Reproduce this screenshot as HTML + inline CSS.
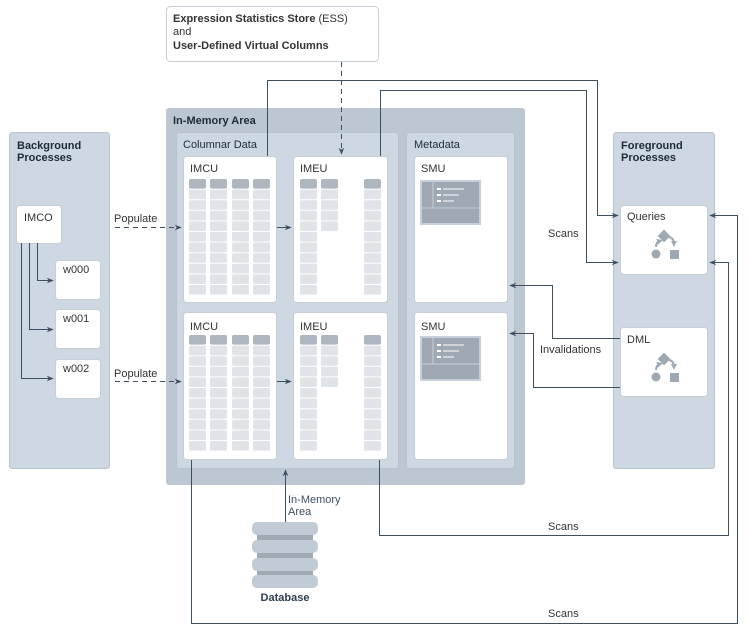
<!DOCTYPE html>
<html><head><meta charset="utf-8"><style>
body{margin:0;background:#fff;}
svg{display:block;font-family:"Liberation Sans",sans-serif;}
</style></head><body>
<svg width="749" height="633" viewBox="0 0 749 633" xmlns="http://www.w3.org/2000/svg">
<defs>
<marker id="ar" viewBox="0 0 10 10" refX="9" refY="5" markerWidth="7" markerHeight="7" orient="auto"><path d="M0,1 L10,5 L0,9 L3,5z" fill="#3d4f61"/></marker>
<marker id="ag" viewBox="0 0 10 10" refX="5" refY="5" markerWidth="3" markerHeight="3" orient="auto"><path d="M0,0 L10,5 L0,10z" fill="#9fa9b3"/></marker>
<g id="hdr"><rect x="0" y="0" width="17" height="9.6" rx="2" fill="#aeb7bf"/></g>
<g id="row"><rect x="0" y="0" width="17" height="9.6" rx="1.5" fill="#e0e4e8"/></g>
<g id="col">
<use href="#hdr"/>
<use href="#row" y="10.6"/><use href="#row" y="21.2"/><use href="#row" y="31.8"/><use href="#row" y="42.4"/><use href="#row" y="53"/>
<use href="#row" y="63.6"/><use href="#row" y="74.2"/><use href="#row" y="84.8"/><use href="#row" y="95.4"/><use href="#row" y="106"/>
</g>
<g id="col4">
<use href="#hdr"/>
<use href="#row" y="10.6"/><use href="#row" y="21.2"/><use href="#row" y="31.8"/><use href="#row" y="42.4"/>
</g>
<g id="smu">
<rect x="0" y="0" width="61" height="45" fill="#c6d0da"/>
<rect x="2" y="2" width="57" height="41" fill="#9fa9b3"/>
<line x1="2" y1="28" x2="59" y2="28" stroke="#c6d0da" stroke-width="1"/>
<line x1="13" y1="2" x2="13" y2="28" stroke="#c6d0da" stroke-width="1"/>
<rect x="17" y="8" width="4" height="2" fill="#fff"/><line x1="23" y1="9" x2="44" y2="9" stroke="#fff"/>
<rect x="17" y="14" width="4" height="2" fill="#fff"/><line x1="23" y1="15" x2="39" y2="15" stroke="#fff"/>
<rect x="17" y="20" width="4" height="2" fill="#fff"/><line x1="23" y1="21" x2="34" y2="21" stroke="#fff"/>
</g>
<g id="proc">
<rect x="-4.5" y="-4.5" width="9" height="9" fill="#9fa9b3" transform="rotate(45)"/>
<circle cx="-8" cy="18" r="4.5" fill="#9fa9b3"/>
<rect x="6" y="14" width="9" height="9" fill="#9fa9b3"/>
<path d="M-8,11 Q-8,6 -4,5" fill="none" stroke="#9fa9b3" stroke-width="2" marker-end="url(#ag)"/>
<path d="M5,1 Q10,2 10,8" fill="none" stroke="#9fa9b3" stroke-width="2" marker-end="url(#ag)"/>
</g>
</defs>

<rect x="166.5" y="6.5" width="212" height="55" rx="4" fill="#fff" stroke="#c6cfd8"/>
<text x="173" y="22" font-size="11" fill="#333"><tspan font-weight="bold">Expression Statistics Store</tspan> (ESS)</text>
<text x="173" y="35" font-size="11" fill="#333">and</text>
<text x="173" y="49" font-size="11" font-weight="bold" fill="#333">User-Defined Virtual Columns</text>

<rect x="9.5" y="132.5" width="100" height="336" rx="3" fill="#cdd8e3" stroke="#b7c3cf"/>
<text x="17" y="149" font-size="11" font-weight="bold" fill="#1e2b38">Background</text>
<text x="17" y="161" font-size="11" font-weight="bold" fill="#1e2b38">Processes</text>
<rect x="16.5" y="205.5" width="45" height="38" rx="3" fill="#fff" stroke="#c6cfd8"/>
<text x="24" y="221" font-size="11" fill="#333">IMCO</text>
<rect x="55.5" y="260.5" width="45" height="39" rx="3" fill="#fff" stroke="#c6cfd8"/>
<text x="63" y="273" font-size="11" fill="#333">w000</text>
<rect x="55.5" y="309.5" width="45" height="39" rx="3" fill="#fff" stroke="#c6cfd8"/>
<text x="63" y="322" font-size="11" fill="#333">w001</text>
<rect x="55.5" y="359.5" width="45" height="39" rx="3" fill="#fff" stroke="#c6cfd8"/>
<text x="63" y="372" font-size="11" fill="#333">w002</text>
<g fill="none" stroke="#3d4f61" stroke-width="1">
<path d="M37.5,243 V280.5 H53" marker-end="url(#ar)"/>
<path d="M29.5,243 V329.5 H53" marker-end="url(#ar)"/>
<path d="M21.5,243 V378.5 H53" marker-end="url(#ar)"/>
</g>

<rect x="166" y="108" width="359" height="377" rx="3" fill="#bcc7d2"/>
<text x="173" y="124" font-size="11" font-weight="bold" fill="#1e2b38">In-Memory Area</text>
<rect x="176.5" y="132.5" width="222" height="336" rx="3" fill="#cdd8e3" stroke="#b7c3cf"/>
<text x="183" y="148" font-size="11" fill="#1e2b38">Columnar Data</text>
<rect x="406.5" y="132.5" width="108" height="336" rx="3" fill="#cdd8e3" stroke="#b7c3cf"/>
<text x="414" y="148" font-size="11" fill="#1e2b38">Metadata</text>

<rect x="183.5" y="156.5" width="93" height="146" rx="3" fill="#fff" stroke="#c6cfd8"/>
<text x="190" y="172" font-size="11" fill="#333">IMCU</text>
<use href="#col" x="189" y="179"/><use href="#col" x="210" y="179"/><use href="#col" x="232" y="179"/><use href="#col" x="253" y="179"/>
<rect x="293.5" y="156.5" width="94" height="146" rx="3" fill="#fff" stroke="#c6cfd8"/>
<text x="300" y="172" font-size="11" fill="#333">IMEU</text>
<use href="#col" x="300" y="179"/><use href="#col4" x="321" y="179"/><use href="#col" x="364" y="179"/>
<rect x="414.5" y="156.5" width="93" height="146" rx="3" fill="#fff" stroke="#c6cfd8"/>
<text x="421" y="172" font-size="11" fill="#333">SMU</text>
<use href="#smu" x="420" y="180"/>

<rect x="183.5" y="312.5" width="93" height="147" rx="3" fill="#fff" stroke="#c6cfd8"/>
<text x="190" y="330" font-size="11" fill="#333">IMCU</text>
<use href="#col" x="189" y="335"/><use href="#col" x="210" y="335"/><use href="#col" x="232" y="335"/><use href="#col" x="253" y="335"/>
<rect x="293.5" y="312.5" width="94" height="147" rx="3" fill="#fff" stroke="#c6cfd8"/>
<text x="300" y="330" font-size="11" fill="#333">IMEU</text>
<use href="#col" x="300" y="335"/><use href="#col4" x="321" y="335"/><use href="#col" x="364" y="335"/>
<rect x="414.5" y="312.5" width="93" height="147" rx="3" fill="#fff" stroke="#c6cfd8"/>
<text x="421" y="330" font-size="11" fill="#333">SMU</text>
<use href="#smu" x="420" y="336"/>

<rect x="613.5" y="132.5" width="101" height="336" rx="3" fill="#cdd8e3" stroke="#b7c3cf"/>
<text x="621" y="149" font-size="11" font-weight="bold" fill="#1e2b38">Foreground</text>
<text x="621" y="161" font-size="11" font-weight="bold" fill="#1e2b38">Processes</text>
<rect x="620.5" y="205.5" width="87" height="69" rx="3" fill="#fff" stroke="#c6cfd8"/>
<text x="627" y="220" font-size="11" fill="#333">Queries</text>
<use href="#proc" x="664" y="236"/>
<rect x="620.5" y="327.5" width="87" height="69" rx="3" fill="#fff" stroke="#c6cfd8"/>
<text x="627" y="343" font-size="11" fill="#333">DML</text>
<use href="#proc" x="664" y="359"/>

<rect x="257" y="525" width="56" height="60" fill="#9fa9b3"/>
<rect x="252" y="522" width="66" height="13" rx="5" fill="#c1cbd5"/>
<rect x="252" y="540" width="66" height="13" rx="5" fill="#c1cbd5"/>
<rect x="252" y="558" width="66" height="13" rx="5" fill="#c1cbd5"/>
<rect x="252" y="575" width="66" height="13" rx="5" fill="#c1cbd5"/>
<text x="285" y="601" font-size="11" font-weight="bold" fill="#2f3f50" text-anchor="middle">Database</text>
<text x="288" y="503" font-size="11" fill="#3d4f61">In-Memory</text>
<text x="288" y="515" font-size="11" fill="#3d4f61">Area</text>

<g fill="none" stroke="#3d4f61" stroke-width="1">
<path d="M115,227.5 H181" stroke-dasharray="5,4" marker-end="url(#ar)"/>
<path d="M115,381.5 H181" stroke-dasharray="5,4" marker-end="url(#ar)"/>
<path d="M277,227.5 H291" marker-end="url(#ar)"/>
<path d="M277,381.5 H291" marker-end="url(#ar)"/>
<path d="M341.5,62 V154" stroke-dasharray="5,4" marker-end="url(#ar)"/>
<path d="M267.5,156 V80.5 H597.5 V215.5 H618" marker-end="url(#ar)"/>
<path d="M380.5,156 V90.5 H586.5 V262.5 H618" marker-end="url(#ar)"/>
<path d="M620,338.5 H552.5 V285.5 H510" marker-end="url(#ar)"/>
<path d="M620,387.5 H533.5 V333.5 H510" marker-end="url(#ar)"/>
<path d="M379.5,460 V535.5 H728.5 V262.5 H710" marker-end="url(#ar)"/>
<path d="M191.5,460 V623.5 H737.5 V215.5 H710" marker-end="url(#ar)"/>
<path d="M285.5,522 V470" marker-end="url(#ar)"/>
</g>
<g font-size="11" fill="#333">
<text x="114" y="222">Populate</text>
<text x="114" y="377">Populate</text>
<text x="548" y="237">Scans</text>
<text x="540" y="353">Invalidations</text>
<text x="548" y="530">Scans</text>
<text x="548" y="617">Scans</text>
</g>
</svg>
</body></html>
